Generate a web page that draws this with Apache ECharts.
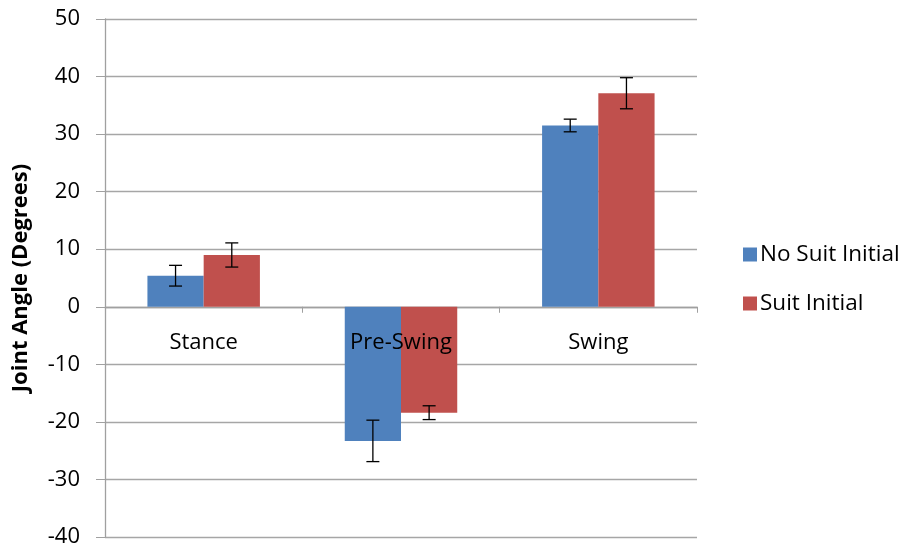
<!DOCTYPE html>
<html><head><meta charset="utf-8">
<script src="https://cdn.jsdelivr.net/npm/echarts@6/dist/echarts.min.js"></script>
<style>html,body{margin:0;padding:0;background:#fff}#c{width:907px;height:546px}</style>
</head><body><div id="c"></div>
<script>
const categories = ['Stance', 'Pre-Swing', 'Swing'];
const noSuit = [5.4, -23.3, 31.5];
const noSuitErr = [1.8, 3.6, 1.1];
const suit = [9.0, -18.4, 37.1];
const suitErr = [2.1, 1.2, 2.7];
const yTicks = [-40, -30, -20, -10, 0, 10, 20, 30, 40, 50];

const FONT = '"Open Sans", "Liberation Sans", sans-serif';
const GAP = 0.43;

function errSeries(name, vals, errs, side) {
  return {
    type: 'custom', name: name + ' err', z: 10, silent: true,
    data: vals.map((v, i) => [i, v - errs[i], v + errs[i]]),
    renderItem: function (params, api) {
      const band = api.size([1, 0])[0];
      const bw = band * (1 - GAP) / 2;
      const c = api.coord([api.value(0), 0]);
      const x = c[0] + side * bw / 2;
      const lo = api.coord([api.value(0), api.value(1)])[1];
      const hi = api.coord([api.value(0), api.value(2)])[1];
      const cap = 6.5;
      const st = { stroke: '#000', lineWidth: 1.3 };
      return { type: 'group', children: [
        { type: 'line', shape: { x1: x, y1: lo, x2: x, y2: hi }, style: st },
        { type: 'line', shape: { x1: x - cap, y1: lo, x2: x + cap, y2: lo }, style: st },
        { type: 'line', shape: { x1: x - cap, y1: hi, x2: x + cap, y2: hi }, style: st }
      ]};
    }
  };
}

const chart = echarts.init(document.getElementById('c'));
chart.setOption({
  animation: false,
  backgroundColor: '#fff',
  grid: { left: 105, right: 210, top: 19, bottom: 9, containLabel: false, outerBoundsMode: 'none' },
  legend: {
    orient: 'vertical', left: 738, top: 238, itemWidth: 14, itemHeight: 14, itemGap: 26,
    icon: 'rect',
    data: ['No Suit Initial', 'Suit Initial'],
    textStyle: { fontFamily: FONT, fontSize: 22.5, lineHeight: 23, color: '#000', padding: [0, 0, 0, -2] }
  },
  xAxis: [{
    type: 'category', data: categories,
    axisLine: { onZero: true, onZeroAxisIndex: 0, lineStyle: { color: '#A0A0A0', width: 1.3 } },
    axisTick: { show: true, length: 6, lineStyle: { color: '#A0A0A0' } },
    axisLabel: { show: false },
    splitLine: { show: false }
  }, {
    type: 'category', data: categories, position: 'bottom', offset: -230, z: 20,
    axisLine: { show: false, onZero: false },
    axisTick: { show: false },
    axisLabel: { show: true, fontFamily: FONT, fontSize: 22, color: '#000', margin: 25 },
    splitLine: { show: false }
  }],
  yAxis: {
    type: 'value', min: -40, max: 50, interval: 10,
    name: 'Joint Angle (Degrees)', nameLocation: 'middle', nameGap: 73, nameRotate: 90,
    nameTextStyle: { fontFamily: FONT, fontSize: 22, fontWeight: 'bold', color: '#000' },
    axisLine: { show: true, lineStyle: { color: '#A0A0A0', width: 1.3 } },
    axisTick: { show: true, length: 9, inside: false, lineStyle: { color: '#A0A0A0' } },
    axisLabel: { fontFamily: FONT, fontSize: 22, color: '#000', margin: 25,
      formatter: v => yTicks.includes(v) ? String(v) : '' },
    splitLine: { show: true, lineStyle: { color: '#A6A6A6', width: 1.3 } }
  },
  series: [
    { name: 'No Suit Initial', type: 'bar', data: noSuit, barGap: '0%', barCategoryGap: (GAP * 100) + '%',
      itemStyle: { color: '#4F81BD' } },
    { name: 'Suit Initial', type: 'bar', data: suit, barGap: '0%', barCategoryGap: (GAP * 100) + '%',
      itemStyle: { color: '#C0504D' } },
    errSeries('No Suit Initial', noSuit, noSuitErr, -1),
    errSeries('Suit Initial', suit, suitErr, 1)
  ]
});
</script></body></html>
